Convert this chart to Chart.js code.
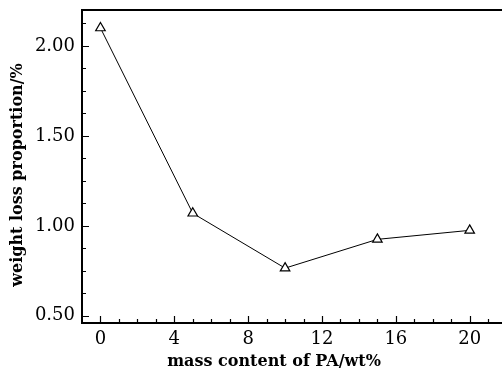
<!DOCTYPE html>
<html>
<head>
<meta charset="utf-8">
<script src="https://cdn.jsdelivr.net/npm/chart.js@4.4.1/dist/chart.umd.min.js"></script>
<style>
    html, body { margin: 0; padding: 0; background: #fff; }
    #wrap { width: 502px; height: 373px; }
</style>
</head>
<body>
<div id="wrap"><canvas id="lossChart" width="502" height="373"></canvas></div>
<script>
// 數據
const massContent = [0, 5, 10, 15, 20];
const weightLoss = [2.10, 1.07, 0.765, 0.925, 0.975];
const xTickValues = [0, 4, 8, 12, 16, 20];
const xTickLabels = ['0', '4', '8', '12', '16', '20'];
const yTickValues = [0.5, 1.0, 1.5, 2.0];
const yTickLabels = ['0.50', '1.00', '1.50', '2.00'];

const xTitle = 'mass content of PA/wt%';
const yTitle = 'weight loss proportion/%';
const serif = "'DejaVu Serif', 'Liberation Serif', serif";

// 次刻度
function minorTicks(from, to, step) {
    const out = [];
    for (let v = from; v <= to + 1e-9; v += step) out.push(Math.round(v * 1000) / 1000);
    return out;
}

function labelFor(values, labels, v) {
    const i = values.findIndex(function (m) { return Math.abs(m - v) < 1e-6; });
    return i >= 0 ? labels[i] : '';
}

// 去掉刻度標籤預留的邊距
function noPad(scale) {
    scale.paddingTop = 0;
    scale.paddingBottom = 0;
    scale.paddingLeft = 0;
    scale.paddingRight = 0;
}

// 向內刻度 + 上邊框 + 軸標題
const framePlugin = {
    id: 'frame',
    afterDraw: function (chart) {
        const ctx = chart.ctx;
        const area = chart.chartArea;
        const xs = chart.scales.x;
        const ys = chart.scales.y;
        ctx.save();
        ctx.strokeStyle = '#000';
        ctx.lineWidth = 1.2;
        ctx.beginPath();
        xs.ticks.forEach(function (t) {
            const px = Math.round(xs.getPixelForValue(t.value)) + 0.5;
            const len = labelFor(xTickValues, xTickLabels, t.value) ? 7 : 4;
            ctx.moveTo(px, area.bottom);
            ctx.lineTo(px, area.bottom - len);
        });
        ys.ticks.forEach(function (t) {
            const py = Math.round(ys.getPixelForValue(t.value)) + 0.5;
            const len = labelFor(yTickValues, yTickLabels, t.value) ? 7 : 4;
            ctx.moveTo(area.left, py);
            ctx.lineTo(area.left + len, py);
        });
        ctx.stroke();

        // 上邊框
        ctx.lineWidth = 2;
        ctx.beginPath();
        ctx.moveTo(area.left, area.top);
        ctx.lineTo(area.right, area.top);
        ctx.stroke();

        // 軸標題
        ctx.fillStyle = '#000';
        ctx.textAlign = 'center';
        ctx.textBaseline = 'middle';
        ctx.font = 'bold 16px ' + serif;
        ctx.fillText(xTitle, 274, 362);
        ctx.translate(18, 175);
        ctx.rotate(-Math.PI / 2);
        ctx.font = 'bold 16px ' + serif;
        ctx.fillText(yTitle, 0, 0);
        ctx.restore();
    }
};

const lossChart = new Chart(document.getElementById('lossChart'), {
    type: 'line',
    data: {
        datasets: [{
            data: massContent.map(function (x, i) { return { x: x, y: weightLoss[i] }; }),
            borderColor: '#000',
            borderWidth: 1,
            pointStyle: 'triangle',
            pointRadius: 5.5,
            pointBackgroundColor: '#fff',
            pointBorderColor: '#000',
            pointBorderWidth: 1.2,
            tension: 0,
            clip: false
        }]
    },
    options: {
        responsive: false,
        animation: false,
        layout: { autoPadding: false, padding: { top: 10, right: 0, left: 0, bottom: 0 } },
        plugins: {
            legend: { display: false },
            tooltip: { enabled: false }
        },
        scales: {
            x: {
                type: 'linear',
                min: -1,
                max: 21.75,
                afterBuildTicks: function (scale) {
                    scale.ticks = minorTicks(0, 21, 1).map(function (v) { return { value: v }; });
                },
                afterFit: function (scale) { scale.height = 50; noPad(scale); },
                ticks: {
                    autoSkip: false,
                    maxRotation: 0,
                    padding: 6,
                    color: '#000',
                    font: { family: serif, size: 18 },
                    callback: function (v) { return labelFor(xTickValues, xTickLabels, v); }
                },
                grid: { display: false, drawTicks: false },
                border: { display: true, color: '#000', width: 2 }
            },
            y: {
                type: 'linear',
                min: 0.46,
                max: 2.2,
                afterBuildTicks: function (scale) {
                    scale.ticks = minorTicks(0.5, 2.125, 0.125).map(function (v) { return { value: v }; });
                },
                afterFit: function (scale) { scale.width = 82; noPad(scale); },
                ticks: {
                    autoSkip: false,
                    padding: 7,
                    color: '#000',
                    font: { family: serif, size: 18 },
                    callback: function (v) { return labelFor(yTickValues, yTickLabels, v); }
                },
                grid: { display: false, drawTicks: false },
                border: { display: true, color: '#000', width: 2 }
            }
        }
    },
    plugins: [framePlugin]
});
</script>
</body>
</html>
